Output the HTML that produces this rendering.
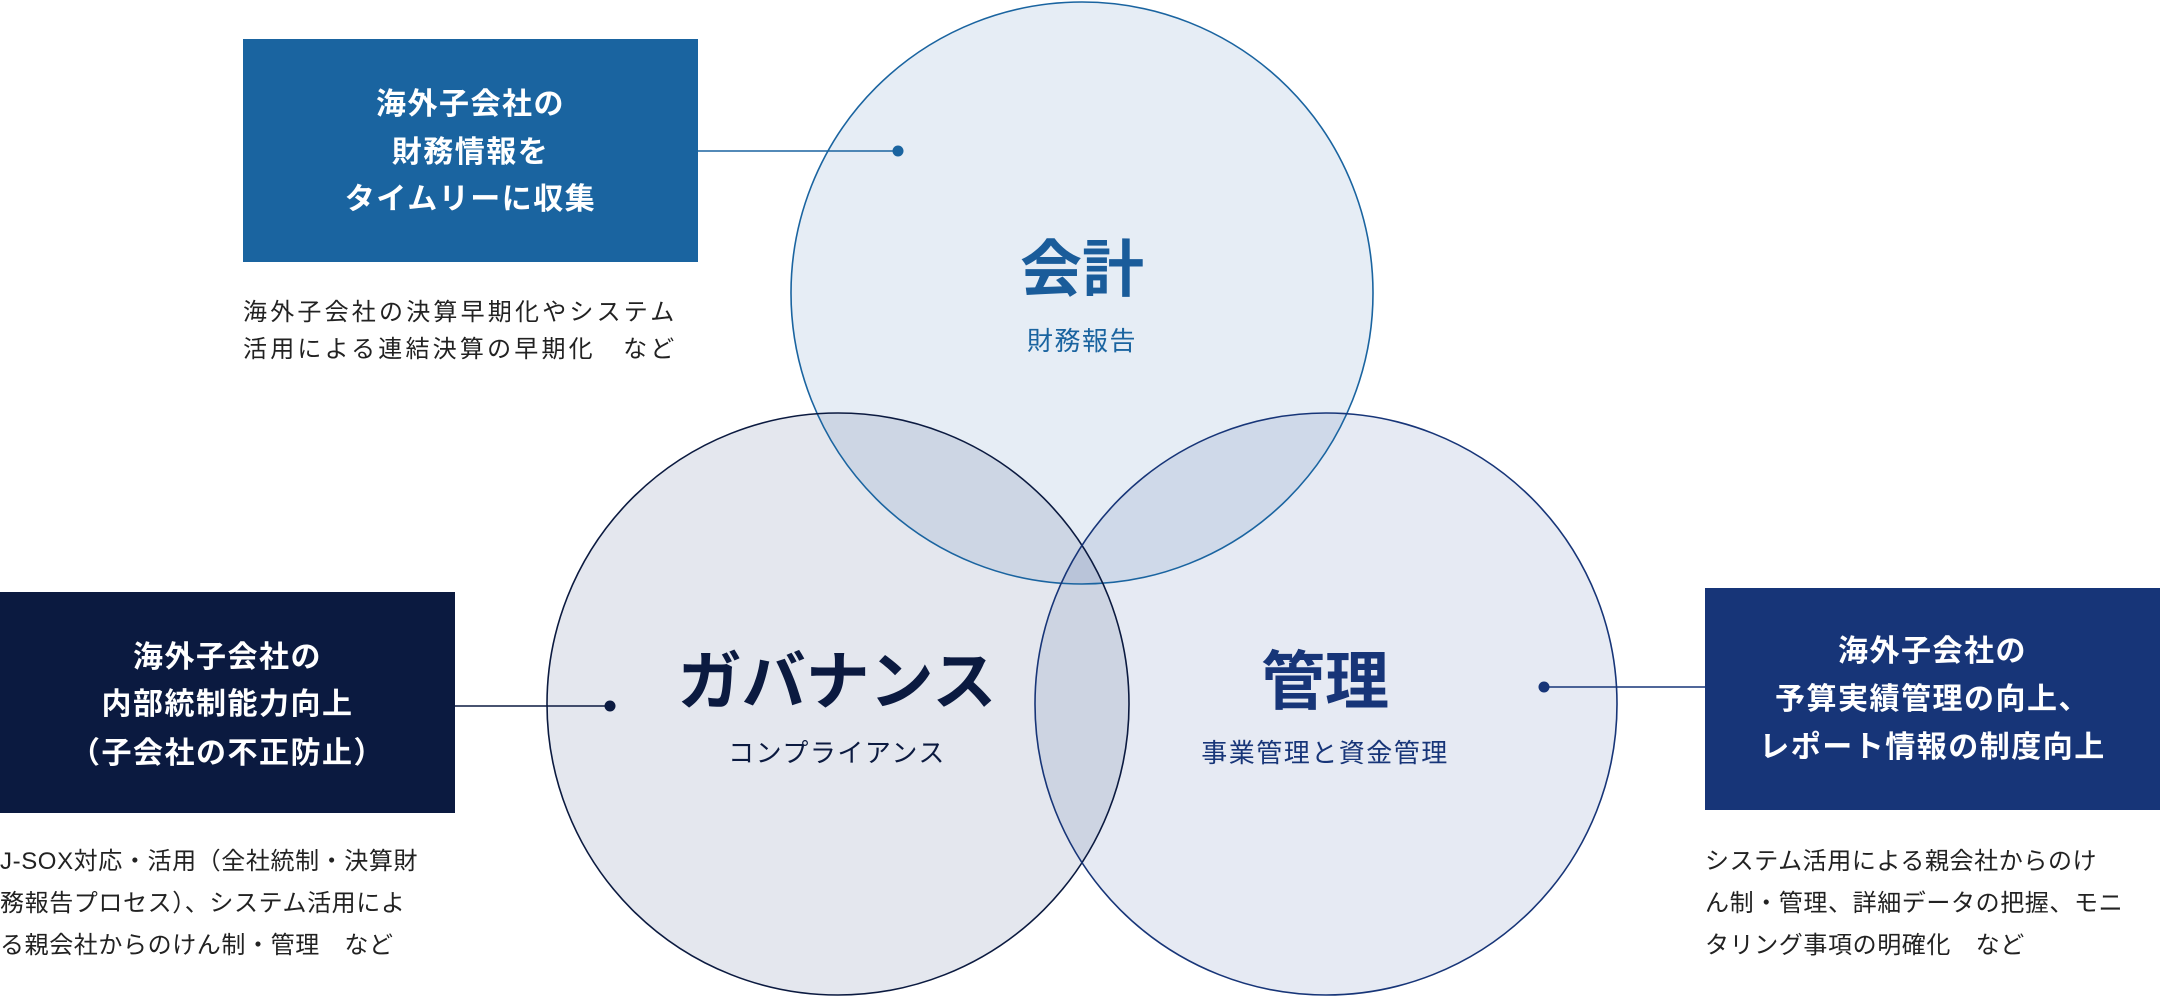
<!DOCTYPE html>
<html><head><meta charset="utf-8"><style>
html,body{margin:0;padding:0;background:#fff;}
body{width:2160px;height:998px;position:relative;overflow:hidden;font-family:"Liberation Sans","Noto Sans CJK JP",sans-serif;}
.box{position:absolute;color:#fff;font-weight:bold;font-size:30px;letter-spacing:1.5px;text-align:center;}
.l{position:absolute;left:0;right:0;line-height:36px;height:36px;white-space:nowrap;}
.d{position:absolute;font-size:24px;color:#222;white-space:nowrap;line-height:36px;letter-spacing:0.6px;}
.t{position:absolute;white-space:nowrap;text-align:center;transform:translateX(-50%);line-height:1;}
.s{font-size:26px;letter-spacing:1.5px;}
</style></head><body>
<svg width="2160" height="998" style="position:absolute;left:0;top:0">
<g style="isolation:isolate">
<circle cx="1082" cy="293" r="291" fill="#e6edf5" style="mix-blend-mode:multiply"/>
<circle cx="838" cy="704" r="291" fill="#e4e7ee" style="mix-blend-mode:multiply"/>
<circle cx="1326" cy="704" r="291" fill="#e6eaf3" style="mix-blend-mode:multiply"/>
</g>
<circle cx="1082" cy="293" r="291" fill="none" stroke="#1a64a0" stroke-width="1.6"/>
<circle cx="838" cy="704" r="291" fill="none" stroke="#0b1a40" stroke-width="1.6"/>
<circle cx="1326" cy="704" r="291" fill="none" stroke="#173578" stroke-width="1.6"/>
<line x1="698" y1="151" x2="898" y2="151" stroke="#1a64a0" stroke-width="1.6"/>
<circle cx="898" cy="151" r="5.5" fill="#1a64a0"/>
<line x1="455" y1="706" x2="610" y2="706" stroke="#0b1a40" stroke-width="1.6"/>
<circle cx="610" cy="706" r="5.5" fill="#0b1a40"/>
<line x1="1544" y1="687" x2="1705" y2="687" stroke="#173578" stroke-width="1.6"/>
<circle cx="1544" cy="687" r="5.5" fill="#173578"/>
</svg>

<div class="box" style="left:243px;top:39px;width:455px;height:223px;background:#1a64a0">
<div class="l" style="top:48px">海外子会社の</div>
<div class="l" style="top:96px">財務情報を</div>
<div class="l" style="top:143px">タイムリーに収集</div>
</div>
<div class="d" style="left:243px;top:295px;letter-spacing:3.2px">海外子会社の決算早期化やシステム</div>
<div class="d" style="left:243px;top:332px;letter-spacing:3.2px">活用による連結決算の早期化　など</div>

<div class="box" style="left:0;top:592px;width:455px;height:221px;background:#0b1a40">
<div class="l" style="top:48px">海外子会社の</div>
<div class="l" style="top:95px">内部統制能力向上</div>
<div class="l" style="top:144px">（子会社の不正防止）</div>
</div>
<div class="d" style="left:0;top:844px">J-SOX対応・活用（全社統制・決算財</div>
<div class="d" style="left:0;top:886px">務報告プロセス）、システム活用によ</div>
<div class="d" style="left:0;top:928px">る親会社からのけん制・管理　など</div>

<div class="box" style="left:1705px;top:588px;width:455px;height:222px;background:#173578">
<div class="l" style="top:46px">海外子会社の</div>
<div class="l" style="top:94px">予算実績管理の向上、</div>
<div class="l" style="top:142px">レポート情報の制度向上</div>
</div>
<div class="d" style="left:1705px;top:844px">システム活用による親会社からのけ</div>
<div class="d" style="left:1705px;top:886px">ん制・管理、詳細データの把握、モニ</div>
<div class="d" style="left:1705px;top:928px">タリング事項の明確化　など</div>

<div class="t" style="left:1082px;top:240px;font-size:62px;font-weight:bold;color:#1a5c9a">会計</div>
<div class="t s" style="left:1082px;top:328px;color:#1a64a0">財務報告</div>
<div class="t" style="left:837px;top:650px;font-size:64px;font-weight:bold;color:#0b1a40">ガバナンス</div>
<div class="t s" style="left:837px;top:740px;color:#0b1a40">コンプライアンス</div>
<div class="t" style="left:1325px;top:650px;font-size:64px;font-weight:bold;color:#173578">管理</div>
<div class="t s" style="left:1325px;top:740px;color:#173578">事業管理と資金管理</div>
</body></html>
